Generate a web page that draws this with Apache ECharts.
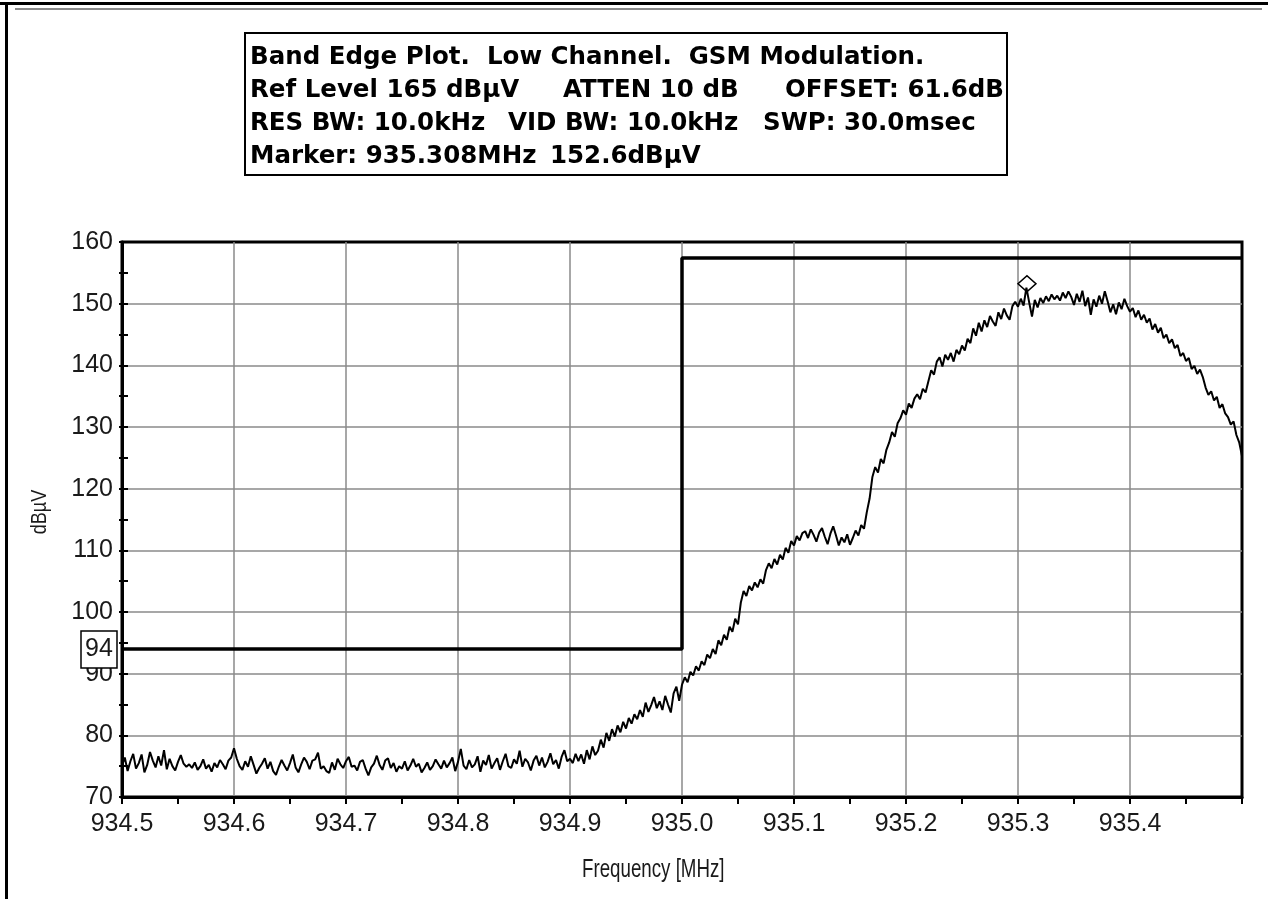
<!DOCTYPE html>
<html>
<head>
<meta charset="utf-8">
<title>Band Edge Plot</title>
<script src="https://cdn.jsdelivr.net/npm/echarts@6/dist/echarts.min.js"></script>
<style>
  html, body { margin: 0; padding: 0; background: #fff; }
  #chart { width: 1268px; height: 899px; }
</style>
</head>
<body>
<div id="chart"></div>
<script>
// Sweep: 401 points, 934.5 MHz to 935.5 MHz
const sweepStart = 934.5;
const sweepStep = 0.0025;

// Measured level (dBuV) per sweep point, split by region of the sweep
const floorLevel = [ // 934.5000 .. 934.9000
  75.1, 76.4, 74.2, 75.8, 77.0, 74.6, 75.5, 76.9, 74.0, 75.2,
  77.3, 75.9, 74.8, 76.6, 75.1, 77.6, 74.5, 76.2, 75.0, 74.3,
  75.7, 76.8, 75.4, 74.9, 75.3, 74.7, 75.6, 74.4, 75.0, 76.1,
  74.6, 75.2, 74.1, 75.5, 74.8, 76.0, 75.3, 74.5, 75.9, 76.4,
  77.9, 76.2, 75.0, 74.4, 75.8, 74.9, 76.6, 75.2, 73.8, 74.7,
  75.4, 76.3, 74.6, 75.7, 74.2, 73.6, 74.9, 76.0, 75.1, 74.3,
  75.5, 76.9, 74.8, 74.0, 75.3, 76.4, 75.7, 74.5, 75.9, 76.1,
  77.2, 74.6, 75.0, 74.2, 73.9, 75.6, 74.4, 76.2, 75.3, 74.7,
  75.8, 76.5, 74.9, 75.1, 74.3, 75.7, 76.0, 74.6, 73.5, 74.8,
  75.4, 76.7, 75.2, 74.4, 75.9, 76.3, 74.7, 75.5, 74.1, 75.0,
  74.6, 75.8, 74.3, 75.1, 76.2, 74.9, 75.4, 74.0, 74.7, 75.6,
  74.4, 75.0, 76.1, 75.3, 74.6, 75.9, 74.8, 75.5, 76.4, 74.2,
  75.7, 77.8, 75.1, 74.5, 76.0, 74.8, 75.3, 76.6, 74.1, 75.9,
  75.2, 76.8, 74.6, 75.5, 76.3, 74.4, 75.8, 77.0, 75.0, 74.7,
  76.1, 75.4, 77.5, 74.9, 76.2, 75.6, 74.3, 75.9, 76.7, 75.1,
  76.4, 74.8, 75.7, 77.1, 75.3, 76.0, 74.6, 76.5, 77.6, 75.8,
  76.2
];
const skirtRise = [ // 934.9025 .. 935.0000
  75.5, 77.0, 75.8, 76.9, 75.4, 77.6, 76.1, 78.2, 76.8, 77.5,
  79.3, 78.0, 80.4, 79.1, 81.0, 79.8, 81.6, 80.5, 82.2, 81.1,
  82.8, 81.9, 83.4, 82.6, 84.1, 83.0, 85.3, 83.8, 84.9, 86.2,
  84.4, 85.5, 84.1, 86.4, 85.0, 83.7, 86.8, 87.9, 85.6, 88.2
];
const edgeRise = [ // 935.0025 .. 935.1000
  89.4, 88.6, 90.3, 89.7, 91.2, 90.5, 92.0, 91.4, 93.1, 92.5,
  94.0, 93.2, 95.4, 94.6, 96.3, 95.5, 97.6, 96.8, 98.9, 98.0,
  101.5, 103.4, 102.6, 104.2, 103.5, 104.8, 104.0, 105.3, 104.6, 106.8,
  107.9, 107.1, 108.6, 107.7, 109.3, 108.5, 110.4, 109.6, 111.5, 110.8
];
const shoulder = [ // 935.1025 .. 935.1650
  112.3, 111.6, 112.8, 113.1, 112.0, 113.4, 112.5, 111.4, 112.9, 113.6,
  112.2, 111.0, 112.7, 113.9, 112.4, 110.8, 112.1, 111.3, 112.6, 110.9,
  112.0, 113.2, 112.4, 114.1, 113.5, 116.2
];
const mainRise = [ // 935.1675 .. 935.3000
  118.4, 121.9, 123.5, 122.6, 124.8, 124.1, 126.3, 127.5, 129.2, 128.4,
  130.6, 131.4, 132.7, 132.0, 133.8, 133.1, 134.6, 135.3, 134.5, 136.2,
  135.6, 137.4, 139.2, 138.5, 140.6, 141.3, 139.8, 141.7, 140.9, 142.0,
  140.6, 142.5, 141.8, 143.2, 142.4, 144.3, 143.6, 146.0, 144.8, 146.9,
  145.5, 147.3, 146.2, 148.0, 147.1, 146.4, 148.6, 147.5, 149.2, 148.1,
  147.4, 149.6, 150.3, 149.5
];
const peakTop = [ // 935.3025 .. 935.4000
  150.8, 149.7, 152.6, 150.2, 147.9, 150.6, 149.4, 150.9, 150.1, 151.2,
  150.4, 151.5, 150.7, 151.3, 150.5, 151.8, 150.9, 152.0, 151.1, 149.8,
  151.6, 150.3, 152.1, 149.6, 151.0, 148.2, 150.7, 149.5, 151.3, 150.0,
  152.0, 150.4, 148.6, 149.9, 148.3, 150.2, 149.1, 150.8, 149.6, 148.7
];
const upperSlope = [ // 935.4025 .. 935.5000
  149.3, 147.8, 148.9, 147.4, 148.2, 146.9, 147.6, 145.8, 146.7, 145.3,
  146.1, 144.4, 145.0, 143.6, 144.2, 142.8, 143.3, 141.5, 142.0, 140.7,
  141.2, 139.4, 139.9, 138.6, 139.3, 138.1, 136.4, 135.2, 135.8, 134.3,
  134.9, 133.1, 133.7, 132.2, 131.6, 130.4, 130.9, 128.7, 127.5, 125.3
];

// Limit mask (band edge at 935.0 MHz)
const limitFreq = [934.5, 935.0, 935.0, 935.5];
const limitLevel = [94, 94, 157.4, 157.4];

// Marker readout
const markerFreq = 935.308;
const markerLevel = 152.6;

// Axis ranges
const freqMin = 934.5, freqMax = 935.5, freqStep = 0.1;
const levelMin = 70, levelMax = 160, levelStep = 10;

// Header box text
const headerLine1 = 'Band Edge Plot.  Low Channel.  GSM Modulation.';
const headerLine2 = ['Ref Level 165 dBµV', 'ATTEN 10 dB', 'OFFSET: 61.6dB'];
const headerLine3 = ['RES BW: 10.0kHz', 'VID BW: 10.0kHz', 'SWP: 30.0msec'];
const headerLine4 = ['Marker: 935.308MHz', '152.6dBµV'];

const levels = [].concat(floorLevel, skirtRise, edgeRise, shoulder, mainRise, peakTop, upperSlope);
const trace = levels.map((v, i) => [+(sweepStart + i * sweepStep).toFixed(4), v]);
const limit = limitFreq.map((f, i) => [f, limitLevel[i]]);

const labelFont = "'Liberation Sans', Arial, sans-serif";
const headFont = "'DejaVu Sans', sans-serif";

const chart = echarts.init(document.getElementById('chart'), null, { renderer: 'canvas' });

function headText(x, y, text) {
  return {
    type: 'text', x: x, y: y, z: 10,
    style: { text: text, fontFamily: headFont, fontWeight: 'bold', fontSize: 24.5, fill: '#000', align: 'left', verticalAlign: 'middle' }
  };
}

const tickStyle = { color: '#000', width: 2 };

chart.setOption({
  animation: false,
  backgroundColor: '#fff',
  grid: {
    left: 122, right: 26, top: 242, bottom: 102,
    show: true, borderColor: '#000', borderWidth: 3, backgroundColor: '#fff'
  },
  xAxis: {
    type: 'value', min: freqMin, max: freqMax, interval: freqStep,
    axisLine: { lineStyle: { color: '#000', width: 3 } },
    axisTick: { show: true, inside: false, length: 7, lineStyle: tickStyle },
    minorTick: { show: true, splitNumber: 2, length: 7, lineStyle: tickStyle },
    splitLine: { show: true, showMinLine: false, showMaxLine: false, lineStyle: { color: '#8a8a8a', width: 1.5 } },
    axisLabel: {
      margin: 15, fontFamily: labelFont, fontSize: 25, color: '#1a1a1a',
      formatter: v => (v > freqMax - freqStep / 2 ? '' : v.toFixed(1))
    }
  },
  yAxis: [
    {
      type: 'value', min: levelMin, max: levelMax, interval: levelStep,
      axisLine: { show: true, lineStyle: { color: '#000', width: 3 } },
      axisTick: { show: true, inside: true, length: 6, lineStyle: tickStyle },
      minorTick: { show: true, splitNumber: 2, length: 6, lineStyle: tickStyle },
      splitLine: { show: true, showMinLine: false, showMaxLine: false, lineStyle: { color: '#8a8a8a', width: 1.5 } },
      axisLabel: { margin: 9, fontFamily: labelFont, fontSize: 25, color: '#1a1a1a' }
    },
    {
      // outer stubs of the level ticks
      type: 'value', position: 'left', min: levelMin, max: levelMax, interval: levelStep,
      axisLine: { show: false },
      axisTick: { show: true, inside: false, length: 3, lineStyle: tickStyle },
      minorTick: { show: true, splitNumber: 2, length: 3, lineStyle: tickStyle },
      splitLine: { show: false },
      axisLabel: { show: false }
    }
  ],
  series: [
    {
      name: 'Limit', type: 'line', data: limit, symbol: 'none',
      lineStyle: { color: '#000', width: 3.5 }, z: 3
    },
    {
      name: 'Level', type: 'line', data: trace, symbol: 'none',
      lineStyle: { color: '#000', width: 2 }, z: 4,
      markPoint: {
        symbol: 'diamond', symbolSize: [18, 16], symbolOffset: [0, -4],
        itemStyle: { color: 'rgba(255,255,255,0)', borderColor: '#000', borderWidth: 1.5 },
        label: { show: false },
        data: [{ coord: [markerFreq, markerLevel] }]
      }
    }
  ]
});

// Limit value tag on the level axis, frame and header box
const tagY = chart.convertToPixel({ yAxisIndex: 0 }, limitLevel[0]);
chart.setOption({
  graphic: [
    { type: 'rect', shape: { x: 0, y: 2, width: 1268, height: 3 }, style: { fill: '#000' } },
    { type: 'rect', shape: { x: 5, y: 2, width: 3, height: 897 }, style: { fill: '#000' } },
    { type: 'rect', shape: { x: 15, y: 8, width: 1247, height: 2 }, style: { fill: '#8a8a8a' } },
    { type: 'rect', shape: { x: 245, y: 33, width: 762, height: 142 }, style: { fill: '#fff', stroke: '#000', lineWidth: 2 }, z: 5 },
    headText(250, 58, headerLine1),
    headText(250, 91, headerLine2[0]),
    headText(563, 91, headerLine2[1]),
    headText(785, 91, headerLine2[2]),
    headText(250, 124, headerLine3[0]),
    headText(508, 124, headerLine3[1]),
    headText(763, 124, headerLine3[2]),
    headText(250, 157, headerLine4[0]),
    headText(550, 157, headerLine4[1]),
    { type: 'rect', shape: { x: 81, y: tagY - 18, width: 36, height: 37 }, style: { fill: '#fff', stroke: '#000', lineWidth: 1.5 }, z: 10 },
    { type: 'text', x: 99, y: tagY, style: { text: String(limitLevel[0]), fontFamily: labelFont, fontSize: 25, fill: '#1a1a1a', align: 'center', verticalAlign: 'middle' }, z: 11 },
    { type: 'text', x: 582, y: 870, scaleX: 0.72, style: { text: 'Frequency [MHz]', fontFamily: labelFont, fontSize: 26, fill: '#1a1a1a', align: 'left', verticalAlign: 'middle' }, z: 10 },
    { type: 'text', x: 40, y: 512, rotation: Math.PI / 2, scaleX: 0.82, style: { text: 'dBµV', fontFamily: labelFont, fontSize: 22, fill: '#1a1a1a', align: 'center', verticalAlign: 'middle' }, z: 10 }
  ]
});
</script>
</body>
</html>
